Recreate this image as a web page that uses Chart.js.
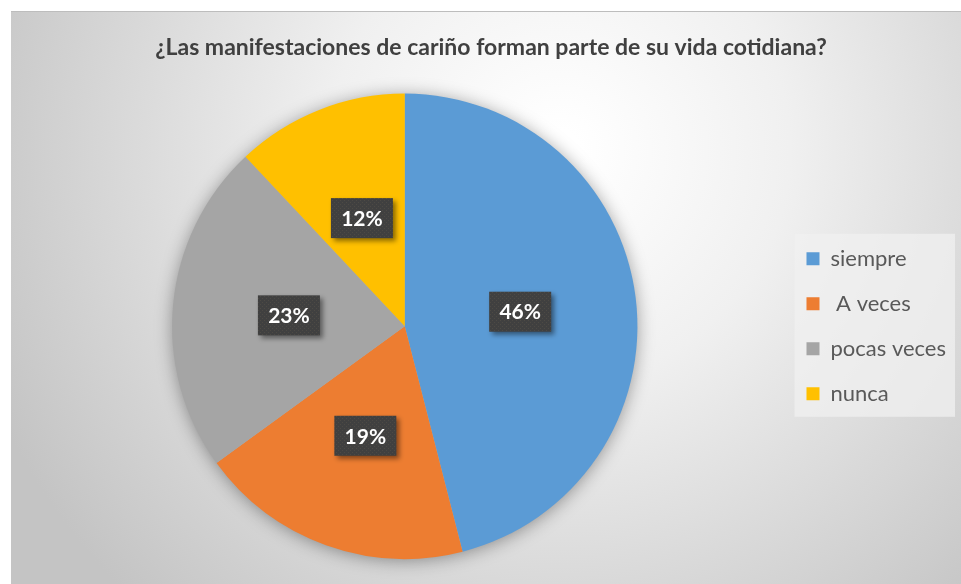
<!DOCTYPE html>
<html>
<head>
<meta charset="utf-8">
<script src="https://cdn.jsdelivr.net/npm/chart.js@4.4.1/dist/chart.umd.min.js"></script>
<style>
  html, body { margin: 0; padding: 0; background: #fff; overflow: hidden; }
  #wrap { position: relative; width: 961px; height: 584px; }
</style>
</head>
<body>
<div id="wrap"><canvas id="pie" width="961" height="584"></canvas></div>
<script>
const titleText = '¿Las manifestaciones de cariño forman parte de su vida cotidiana?';
const categories = ['siempre', ' A veces', 'pocas veces', 'nunca'];
const percentages = [46, 19, 23, 12];
const sliceColors = ['#5B9BD5', '#ED7D31', '#A5A5A5', '#FFC000'];

// dotted dark fill used behind the data labels
function labelPattern(ctx) {
  const c = document.createElement('canvas');
  c.width = c.height = 4;
  const p = c.getContext('2d');
  p.fillStyle = '#404040';
  p.fillRect(0, 0, 4, 4);
  p.fillStyle = '#4d4a45';
  p.fillRect(0, 0, 1, 1);
  p.fillRect(2, 2, 1, 1);
  return ctx.createPattern(c, 'repeat');
}

const frameBackground = {
  id: 'frameBackground',
  beforeDraw(chart) {
    const { ctx, width, height } = chart;
    ctx.save();
    ctx.fillStyle = '#fff';
    ctx.fillRect(0, 0, width, height);
    const g = ctx.createRadialGradient(560, 150, 20, 560, 150, 620);
    g.addColorStop(0, '#ffffff');
    g.addColorStop(0.35, '#f0f0f0');
    g.addColorStop(1, '#c4c4c4');
    ctx.fillStyle = g;
    ctx.fillRect(11, 11, width - 11, height - 11);
    ctx.fillStyle = '#bdbdbd';
    ctx.fillRect(11, 11, width - 11, 1);

    // legend panel
    const lg = chart.legend;
    if (lg && lg.legendHitBoxes && lg.legendHitBoxes.length) {
      const hb = lg.legendHitBoxes;
      const first = hb[0], last = hb[hb.length - 1];
      const x0 = first.left - 12;
      const y0 = first.top - 14;
      const y1 = last.top + last.height + 12;
      ctx.fillStyle = 'rgba(240,240,240,0.75)';
      ctx.fillRect(x0, y0, lg.right - 1 - x0, y1 - y0);
    }
    ctx.restore();
  }
};

const pieShadow = {
  id: 'pieShadow',
  beforeDatasetsDraw(chart) {
    const arc = chart.getDatasetMeta(0).data[0];
    if (!arc) return;
    const { ctx } = chart;
    ctx.save();
    ctx.shadowColor = 'rgba(0,0,0,0.4)';
    ctx.shadowBlur = 18;
    ctx.shadowOffsetY = 2;
    ctx.fillStyle = '#b0b0b0';
    ctx.beginPath();
    ctx.arc(arc.x, arc.y, arc.outerRadius - 1, 0, Math.PI * 2);
    ctx.fill();
    ctx.restore();
  }
};

const sliceLabels = {
  id: 'sliceLabels',
  afterDatasetsDraw(chart) {
    const { ctx } = chart;
    const meta = chart.getDatasetMeta(0);
    const fill = labelPattern(ctx);
    const w = 62, h = 40;
    meta.data.forEach((arc, i) => {
      const pos = arc.tooltipPosition();
      ctx.save();
      ctx.shadowColor = 'rgba(0,0,0,0.45)';
      ctx.shadowBlur = 5;
      ctx.shadowOffsetX = 3;
      ctx.shadowOffsetY = 3;
      ctx.fillStyle = fill;
      ctx.fillRect(pos.x - w / 2, pos.y - h / 2, w, h);
      ctx.restore();
      ctx.save();
      ctx.fillStyle = '#ffffff';
      ctx.font = 'bold 21px Lato';
      ctx.textAlign = 'center';
      ctx.textBaseline = 'middle';
      ctx.fillText(percentages[i] + '%', pos.x, pos.y + 1);
      ctx.restore();
    });
  }
};

new Chart(document.getElementById('pie'), {
  type: 'pie',
  data: {
    labels: categories,
    datasets: [{
      data: percentages,
      backgroundColor: sliceColors,
      borderWidth: 0
    }]
  },
  options: {
    responsive: false,
    animation: false,
    layout: { padding: { left: 26, right: 5, top: 25, bottom: 25 } },
    plugins: {
      title: {
        display: true,
        text: titleText,
        color: '#404040',
        font: { family: 'Lato', size: 23, weight: 'bold' },
        padding: { top: 9, bottom: 32 }
      },
      legend: {
        position: 'right',
        fullSize: false,
        labels: {
          boxWidth: 13,
          boxHeight: 13,
          padding: 23,
          color: '#595959',
          font: { family: 'Lato', size: 22 }
        }
      },
      tooltip: { enabled: false }
    }
  },
  plugins: [frameBackground, pieShadow, sliceLabels]
});
</script>
</body>
</html>
